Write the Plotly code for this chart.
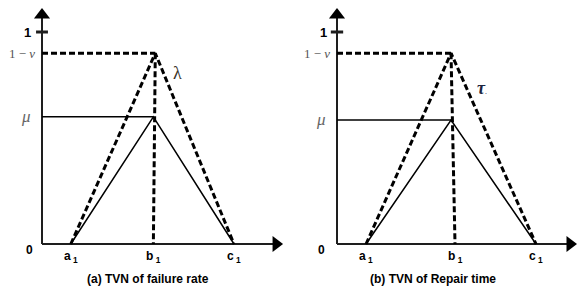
import plotly.graph_objects as go

# ---- data, normalised so c1 = 1, full membership = 1 ----
panels = ["a", "b"]
a1 = [0.15, 0.146]
b1 = [0.58, 0.593]
c1 = [1.0, 1.0]
peak_x = [0.59, 0.573]        # apex of dashed (non-membership) triangle
peak_solid_x = [0.58, 0.573]  # apex of solid (membership) triangle
one_minus_nu = [0.90, 0.90]
mu = [0.60, 0.585]
x_arrow_end = [1.219, 1.171]
y_arrow_end = 1.08
captions = ["(a) TVN of failure rate", "(b) TVN of Repair time"]
symbols = ["λ", "τ"]
symbol_pos = [(0.708, 0.807), (0.729, 0.736)]
zero_x = [-0.036, -0.05]
one_x = [-0.073, -0.07]
caption_x = [0.552, 0.482]

W, H = 577, 291
x_domains = [[0, 290 / W], [290 / W, 1]]
x_ranges = [[-42 / 192, 248 / 192], [-47 / 199, 240 / 199]]
y_range = [-47 / 212, 244 / 212]

fig = go.Figure()
AX = "#1e1e1e"
BOLD = "Liberation Sans, Arial, sans-serif"
SERIF = "Liberation Serif, DejaVu Serif, serif"

for i in range(2):
    xr = "x" if i == 0 else "x2"
    yr = "y" if i == 0 else "y2"
    kw = dict(xaxis=xr, yaxis=yr, showlegend=False, hoverinfo="skip", cliponaxis=False)
    # axes
    fig.add_trace(go.Scatter(x=[0, x_arrow_end[i]], y=[0, 0], mode="lines",
                             line=dict(color=AX, width=2), **kw))
    fig.add_trace(go.Scatter(x=[0, 0], y=[0, y_arrow_end], mode="lines",
                             line=dict(color=AX, width=2), **kw))
    fig.add_trace(go.Scatter(x=[x_arrow_end[i]], y=[0], mode="markers",
                             marker=dict(symbol="triangle-right", size=14, color="black"), **kw))
    fig.add_trace(go.Scatter(x=[0], y=[y_arrow_end], mode="markers",
                             marker=dict(symbol="triangle-up", size=14, color="black"), **kw))
    # tick at 1
    fig.add_trace(go.Scatter(x=[-0.031, 0.031], y=[1, 1], mode="lines",
                             line=dict(color=AX, width=3), **kw))
    # dashed (1 - nu) triangle
    fig.add_trace(go.Scatter(x=[0, peak_x[i]], y=[one_minus_nu[i], one_minus_nu[i]], mode="lines",
                             line=dict(color="black", width=3, dash="6px,3px"), **kw))
    fig.add_trace(go.Scatter(x=[a1[i], peak_x[i], c1[i]], y=[0, one_minus_nu[i], 0], mode="lines",
                             line=dict(color="black", width=3, dash="6px,3px"), **kw))
    fig.add_trace(go.Scatter(x=[peak_x[i], b1[i]], y=[one_minus_nu[i], 0], mode="lines",
                             line=dict(color="black", width=3, dash="6px,3px"), **kw))
    # solid mu triangle
    fig.add_trace(go.Scatter(x=[0, peak_solid_x[i]], y=[mu[i], mu[i]], mode="lines",
                             line=dict(color="black", width=1.5), **kw))
    fig.add_trace(go.Scatter(x=[a1[i], peak_solid_x[i], c1[i]], y=[0, mu[i], 0], mode="lines",
                             line=dict(color="black", width=1.5), **kw))

    def ann(x, y, text, size=12, font=BOLD, color="black", xanchor="center", yanchor="middle"):
        fig.add_annotation(x=x, y=y, xref=xr, yref=yr, text=text, showarrow=False,
                           font=dict(family=font, size=size, color=color),
                           xanchor=xanchor, yanchor=yanchor)

    ann(one_x[i], 1, "<b>1</b>", size=13)
    ann(-0.015, one_minus_nu[i] - 0.005, "1 − <i>ν</i><sub> </sub>", size=13, font=SERIF,
        color="#555", xanchor="right")
    ann(-0.045, mu[i], "<i>μ</i>", size=17, font=SERIF, color="#666", xanchor="right")
    ann(zero_x[i], -0.028, "<b>0</b>", size=12, xanchor="right")
    for v, lab in zip([a1[i], b1[i], c1[i]], ["a", "b", "c"]):
        ann(v, -0.06, f"<b>{lab}<sub> 1</sub></b>", size=12)
    ann(caption_x[i], -0.165, f"<b>{captions[i]}</b>", size=12)
    sx, sy = symbol_pos[i]
    ann(sx, sy, symbols[i] if i == 0 else "<i><b>τ</b></i><span style='font-size:8px'>.</span>",
        size=18, font=SERIF, color="#3a3228" if i == 0 else "#1d2540")

common_x = dict(visible=False, fixedrange=True)
common_y = dict(visible=False, fixedrange=True, range=y_range, domain=[0, 1])
fig.update_layout(
    width=W, height=H,
    margin=dict(l=0, r=0, t=0, b=0),
    paper_bgcolor="white", plot_bgcolor="white",
    xaxis=dict(domain=x_domains[0], range=x_ranges[0], **common_x),
    xaxis2=dict(domain=x_domains[1], range=x_ranges[1], **common_x),
    yaxis=dict(anchor="x", **common_y),
    yaxis2=dict(anchor="x2", **common_y),
)

fig.write_html("out.html", config={"displayModeBar": False},
               post_script="document.body.style.margin='0';document.body.style.overflow='hidden';")
